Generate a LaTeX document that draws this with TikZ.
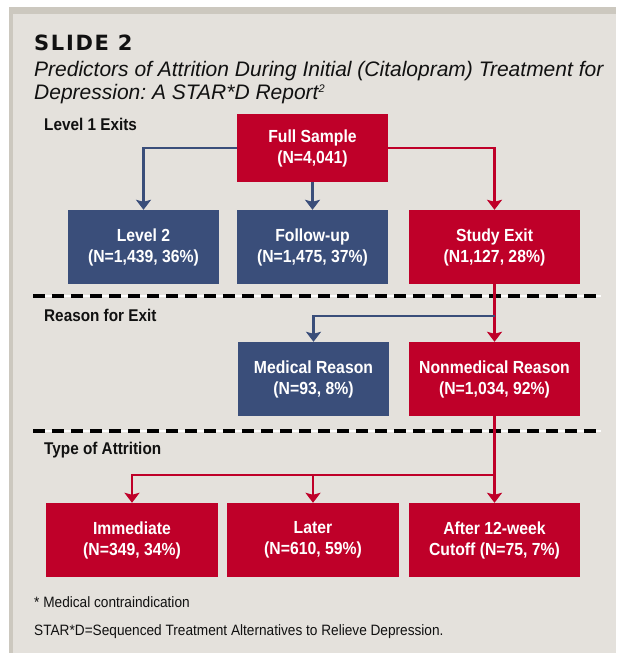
\documentclass[tikz,border=0pt]{standalone}
\usepackage{fontspec}
\setmainfont{Liberation Sans}
\newfontfamily\condsans[FakeStretch=0.9]{Liberation Sans}
\newfontfamily\notesans[FakeStretch=0.91]{Liberation Sans}
\newfontfamily\slidefont[LetterSpace=8]{DejaVu Sans}
\usepackage{tikz}
\usetikzlibrary{arrows.meta,positioning,calc}
\definecolor{slideRed}{HTML}{BF0029}
\definecolor{slideBlue}{HTML}{3A4E7A}
\definecolor{slidePanel}{HTML}{E4E1DC}
\definecolor{slideFrame}{HTML}{CCC8BF}
\definecolor{slideInk}{HTML}{111111}
\frenchspacing
\tikzset{
  flowbox/.style={minimum width=151pt, minimum height=74pt, inner sep=0pt, align=center,
                  text=white, font=\condsans\bfseries\fontsize{17.5}{21}\selectfont},
  redbox/.style={flowbox, fill=slideRed},
  bluebox/.style={flowbox, fill=slideBlue},
  wide/.style={minimum width=171pt},
  flowarr/.style={-{Stealth[length=10pt, width=15pt, inset=2pt]}, line width=2.2pt},
  redarr/.style={flowarr, draw=slideRed},
  bluearr/.style={flowarr, draw=slideBlue},
  levellabel/.style={anchor=west, inner sep=0pt, text=slideInk,
                     font=\condsans\bfseries\fontsize{17}{18}\selectfont},
  footnote/.style={anchor=west, inner sep=0pt, text=slideInk,
                   font=\notesans\fontsize{15}{17}\selectfont},
  titleline/.style={anchor=base west, inner sep=0pt, text=slideInk,
                    font=\itshape\fontsize{21}{24}\selectfont},
}
\begin{document}
\begin{tikzpicture}[x=1pt, y=-1pt]
  % page, frame and panel
  \fill[white] (0,0) rectangle (616,655);
  \fill[slideFrame] (9,7) rectangle (616,653);
  \fill[slidePanel] (13,14) rectangle (616,653);
  \useasboundingbox (0,0) rectangle (616,655);

  % heading
  \node[anchor=base west, inner sep=0pt, text=slideInk, font=\slidefont\bfseries\fontsize{21}{24}\selectfont] (slide) at (34,51) {SLIDE 2};
  \node[titleline] (title1) at (34,77) {Predictors of Attrition During Initial (Citalopram) Treatment for};
  \node[titleline] (title2) at (34,100) {Depression: A STAR*D Report\raisebox{7pt}{\fontsize{11}{11}\selectfont 2}};

  % level separators
  \foreach \y in {296,431} {
    \draw[line width=2pt, white] (33,\y) -- (601,\y);
    \draw[line width=4pt, black, dash pattern=on 12pt off 7pt] (33,\y) -- (601,\y);
  }

  \node[levellabel] (lvl1) at (44,124) {Level 1 Exits};
  \node[levellabel] (lvl2) at (44,315) {Reason for Exit};
  \node[levellabel] (lvl3) at (44,450) {Type of Attrition};

  \node[redbox, minimum height=68pt] (full) at (312.5,148) {Full Sample\\(N=4,041)};
  \node[bluebox] (level2) at (143.5,247) {Level 2\\(N=1,439, 36\%)};
  \node[bluebox] (fup) at (312.5,247) {Follow-up\\(N=1,475, 37\%)};
  \node[redbox, wide] (exit) at (494.5,247) {Study Exit\\(N1,127, 28\%)};
  \node[bluebox] (med) at (313.5,379) {Medical Reason\\(N=93, 8\%)};
  \node[redbox, wide] (nonmed) at (494.5,379) {Nonmedical Reason\\(N=1,034, 92\%)};
  \node[redbox, wide, minimum width=172pt] (immed) at (132,540) {Immediate\\(N=349, 34\%)};
  \node[redbox, wide, minimum width=172pt] (later) at (313,540) {Later\\(N=610, 59\%)};
  \node[redbox, wide] (cutoff) at (494.5,540) {After 12-week\\Cutoff (N=75, 7\%)};

  \coordinate (exitfork) at ($(exit.south)!0.55!(nonmed.north)$);
  \coordinate (typefork) at ($(nonmed.south)!0.68!(cutoff.north)$);

  \draw[bluearr] (full.west) -| (level2.north);
  \draw[bluearr] (full.south) -- (fup.north);
  \draw[redarr] (full.east) -| (exit.north);
  \draw[redarr] (exit.south) -- (nonmed.north);
  \draw[bluearr] (exitfork) -| (med.north);
  \draw[redarr] (nonmed.south) -- (cutoff.north);
  \draw[redarr] (typefork) -| (immed.north);
  \draw[redarr] (typefork) -| (later.north);

  \node[footnote] (note1) at (34,602) {* Medical contraindication};
  \node[footnote] (note2) at (34,632) {STAR*D=Sequenced Treatment Alternatives to Relieve Depression.};
\end{tikzpicture}
\end{document}
